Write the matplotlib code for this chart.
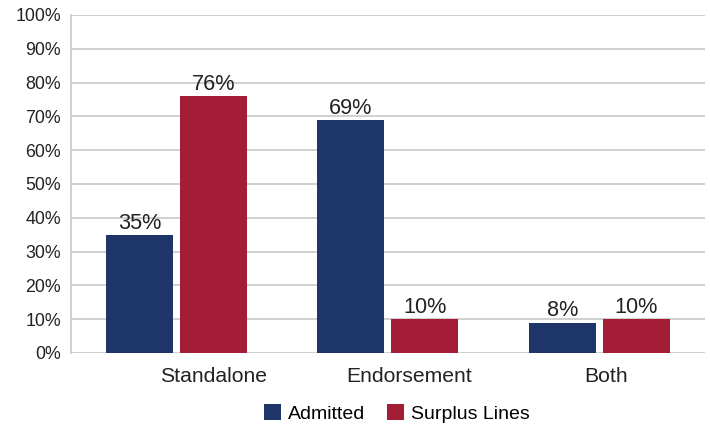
import matplotlib.pyplot as plt
import numpy as np

plt.rcParams['font.family'] = ['Liberation Sans', 'DejaVu Sans']

categories = ["Standalone", "Endorsement", "Both"]
admitted = [35, 69, 9]
surplus = [76, 10, 10]
admitted_labels = ["35%", "69%", "8%"]
surplus_labels = ["76%", "10%", "10%"]

blue = "#1e3569"
red = "#a31d36"
grid_c = "#c8c8c8"
text_c = "#222222"

fig = plt.figure(figsize=(7.1, 4.26), dpi=100)
ax = fig.add_axes([0.0993, 0.1714, 0.8937, 0.7934])

x = np.arange(len(categories))
w = 0.316
off = 0.1745
b1 = ax.bar(x - off, admitted, w, color=blue, label="Admitted", zorder=3)
b2 = ax.bar(x + off, surplus, w, color=red, label="Surplus Lines", zorder=3)

for bars, labs in ((b1, admitted_labels), (b2, surplus_labels)):
    for b, lab in zip(bars, labs):
        ax.text(b.get_x() + b.get_width() / 2, b.get_height() + 1.8, lab,
                ha="center", va="baseline", fontsize=15.6, color=text_c)

# category labels in the original sit a bit right of the bar groups
label_shift = [0.175, 0.10, 0.033]

ax.set_xlim(-0.5, 2.5)
ax.set_ylim(0, 100)
ax.set_yticks(range(0, 101, 10))
ax.set_yticklabels([f"{v}%" for v in range(0, 101, 10)])
ax.set_xticks(x + np.array(label_shift))
ax.set_xticklabels(categories)
ax.yaxis.grid(True, color=grid_c, linewidth=1.2, zorder=0)
ax.tick_params(axis="both", length=0, labelsize=12.8, colors=text_c)
ax.tick_params(axis="x", pad=10, labelsize=15.2)
ax.tick_params(axis="y", pad=7)
for s in ["top", "right", "bottom"]:
    ax.spines[s].set_visible(False)
ax.spines["left"].set_color(grid_c)
ax.spines["left"].set_linewidth(1.2)

fig.legend(handles=[b1, b2], loc="center", bbox_to_anchor=(0.559, 0.03),
           ncol=2, frameon=False, fontsize=14, handlelength=0.9,
           handleheight=0.9, handletextpad=0.35, columnspacing=1.1)

fig.savefig("out.png", dpi=100)
